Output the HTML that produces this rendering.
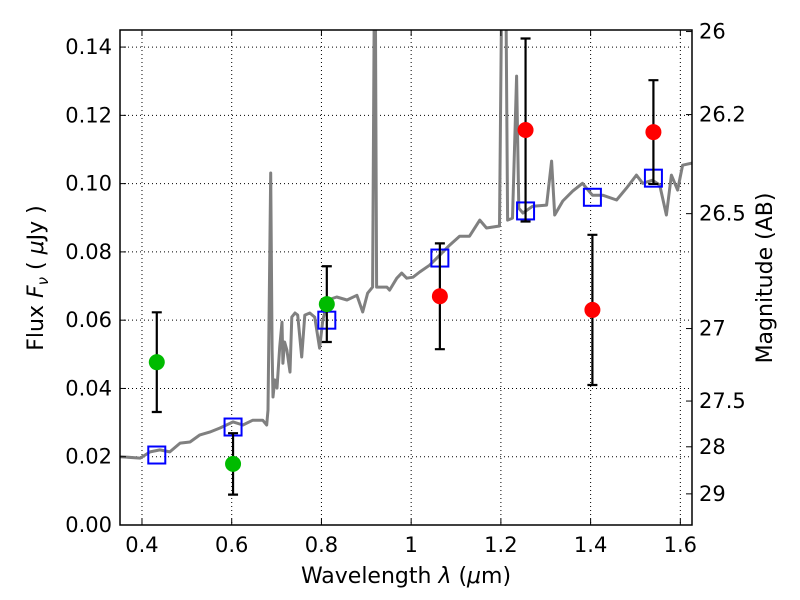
<!DOCTYPE html>
<html><head><meta charset="utf-8"><style>
body{margin:0;background:#fff;}
svg{display:block;font-family:"DejaVu Sans","Liberation Sans",sans-serif;}
</style></head><body>
<svg id="chart" width="800" height="600">
<defs><clipPath id="clip"><rect x="120" y="30" width="572" height="495"/></clipPath></defs>
<rect x="0" y="0" width="800" height="600" fill="#fff"/>
<g id="grid"></g>
<g id="spec" clip-path="url(#clip)"></g>
<g id="marks"></g>
<rect x="120" y="30" width="572" height="495" fill="none" stroke="#000" stroke-width="1.5"/>
<g id="axes"></g>
<text x="406" y="583" font-size="22" text-anchor="middle">Wavelength  <tspan font-style="italic">λ</tspan> (<tspan font-style="italic">μ</tspan>m)</text>
<text transform="translate(43,278) rotate(-90)" font-size="22" text-anchor="middle">Flux  <tspan font-style="italic">F</tspan><tspan font-style="italic" font-size="15" dy="5">ν</tspan><tspan dy="-5">  ( </tspan><tspan font-style="italic">μ</tspan>Jy )</text>
<text transform="translate(772,278) rotate(-90)" font-size="22" text-anchor="middle">Magnitude (AB)</text>
</svg>
<script>
const specLam=[0.351,0.396,0.418,0.440,0.462,0.485,0.507,0.529,0.551,0.574,0.603,0.625,0.647,0.669,0.678,0.681,0.687,0.690,0.692,0.696,0.701,0.707,0.712,0.714,0.718,0.723,0.730,0.734,0.741,0.747,0.756,0.763,0.774,0.785,0.796,0.803,0.814,0.834,0.857,0.879,0.892,0.903,0.914,0.918,0.920,0.923,0.946,0.952,0.968,0.979,0.990,1.004,1.019,1.041,1.064,1.086,1.108,1.130,1.153,1.168,1.197,1.202,1.211,1.215,1.226,1.235,1.240,1.249,1.271,1.302,1.313,1.320,1.338,1.360,1.382,1.404,1.427,1.458,1.480,1.502,1.516,1.538,1.554,1.569,1.580,1.594,1.605,1.626];
const specFlux=[0.0200,0.0196,0.0214,0.0220,0.0214,0.0240,0.0243,0.0264,0.0272,0.0284,0.0302,0.0293,0.0307,0.0307,0.0293,0.0337,0.1031,0.0512,0.0375,0.0425,0.0401,0.0521,0.0594,0.0474,0.0536,0.0512,0.0448,0.0609,0.0621,0.0615,0.0492,0.0615,0.0621,0.0609,0.0518,0.0600,0.0659,0.0668,0.0659,0.0673,0.0624,0.0679,0.0697,0.16,0.16,0.0697,0.0697,0.0688,0.0723,0.0738,0.0723,0.0726,0.0741,0.0761,0.0791,0.0820,0.0846,0.0846,0.0893,0.0870,0.0876,0.16,0.16,0.0893,0.0899,0.1315,0.0928,0.0914,0.0934,0.0937,0.1066,0.0908,0.0949,0.0978,0.1001,0.0966,0.0966,0.0952,0.0987,0.1025,0.1001,0.1010,0.0996,0.0908,0.1025,0.0981,0.1054,0.1060];
const greenLam=[0.433,0.603,0.812];
const greenFlux=[0.0477,0.0179,0.0647];
const greenErr=[0.0146,0.0090,0.0111];
const redLam=[1.064,1.255,1.404,1.540];
const redFlux=[0.0670,0.1157,0.0630,0.1151];
const redErr=[0.0155,0.0268,0.0220,0.0152];
const modelLam=[0.433,0.603,0.812,1.064,1.255,1.404,1.540];
const modelFlux=[0.0205,0.0287,0.0600,0.0782,0.0920,0.0960,0.1016];
const xTicks=[0.4,0.6,0.8,1.0,1.2,1.4,1.6];
const xTickLabels=["0.4","0.6","0.8","1","1.2","1.4","1.6"];
const yTicks=[0,0.02,0.04,0.06,0.08,0.10,0.12,0.14];
const yTickLabels=["0.00","0.02","0.04","0.06","0.08","0.10","0.12","0.14"];
const magTicks=[26,26.2,26.5,27,27.5,28,29];
const magTickLabels=["26","26.2","26.5","27","27.5","28","29"];

const NS="http://www.w3.org/2000/svg";
const X0=120,X1=692,Y0=525,Y1=30,LMIN=0.351,LMAX=1.626,FMIN=0,FMAX=0.145;
function sx(l){return X0+(l-LMIN)/(LMAX-LMIN)*(X1-X0);}
function sy(f){return Y0-(f-FMIN)/(FMAX-FMIN)*(Y0-Y1);}
function magToFlux(m){return Math.pow(10,(23.9-m)/2.5);}
function mk(tag,attrs,parent){const e=document.createElementNS(NS,tag);for(const k in attrs)e.setAttribute(k,attrs[k]);parent.appendChild(e);return e;}
const grid=document.getElementById('grid'),axes=document.getElementById('axes'),spec=document.getElementById('spec'),marks=document.getElementById('marks');

xTicks.forEach((t,i)=>{const x=sx(t);
 const g=mk('line',{x1:x,x2:x,y1:Y1,y2:Y0,stroke:'#000','stroke-width':1,'stroke-dasharray':'1,3'},grid);
 
 const tk=mk('path',{d:`M${x},${Y0}v-6M${x},${Y1}v6`,stroke:'#000','stroke-width':1},axes);
 
 const tx=mk('text',{x:x,y:552,'font-size':21,'text-anchor':'middle'},axes);tx.textContent=xTickLabels[i];
 
});
yTicks.forEach((t,i)=>{const y=sy(t);
 const g=mk('line',{x1:X0,x2:X1,y1:y,y2:y,stroke:'#000','stroke-width':1,'stroke-dasharray':'1,3'},grid);
 
 const tk=mk('path',{d:`M${X0},${y}h6`,stroke:'#000','stroke-width':1},axes);
 
 const tx=mk('text',{x:112,y:y+7,'font-size':21,'text-anchor':'end'},axes);tx.textContent=yTickLabels[i];
 
});
magTicks.forEach((m,i)=>{const y=sy(magToFlux(m));
 const tk=mk('path',{d:`M${X1},${y}h-6`,stroke:'#000','stroke-width':1},axes);
 
 const tx=mk('text',{x:699,y:y+7,'font-size':21,'text-anchor':'start'},axes);tx.textContent=magTickLabels[i];
 
});

const pts=specLam.map((l,i)=>sx(l).toFixed(1)+','+sy(specFlux[i]).toFixed(1)).join(' ');
const pl=mk('polyline',{points:pts,fill:'none',stroke:'#808080','stroke-width':3,'stroke-linejoin':'round'},spec);


function errbar(l,f,e){const x=sx(l),yt=sy(f+e),yb=sy(f-e);
 const p=mk('path',{d:`M${x},${yt}V${yb}M${x-5},${yt}h10M${x-5},${yb}h10`,stroke:'#000','stroke-width':2.2,fill:'none'},marks);
 }
modelLam.forEach((l,i)=>{const x=sx(l),y=sy(modelFlux[i]);
 const r=mk('rect',{x:x-8.5,y:y-8.5,width:17,height:17,fill:'none',stroke:'#0000ff','stroke-width':2},marks);
 });
greenLam.forEach((l,i)=>{errbar(l,greenFlux[i],greenErr[i]);
 const c=mk('circle',{cx:sx(l),cy:sy(greenFlux[i]),r:8,fill:'#00bb00'},marks);
 });
redLam.forEach((l,i)=>{errbar(l,redFlux[i],redErr[i]);
 const c=mk('circle',{cx:sx(l),cy:sy(redFlux[i]),r:8,fill:'#ff0000'},marks);
 });
</script>
</body></html>
